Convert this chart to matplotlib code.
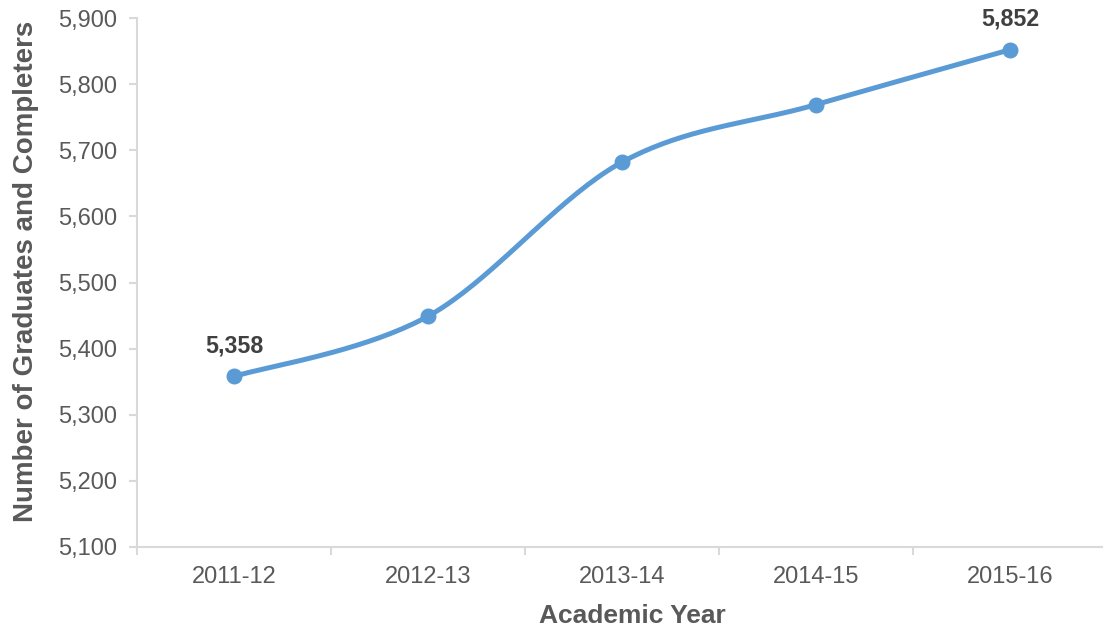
import numpy as np
import matplotlib
matplotlib.use("Agg")
import matplotlib.pyplot as plt
from matplotlib.ticker import FuncFormatter, FixedLocator

years = ["2011-12", "2012-13", "2013-14", "2014-15", "2015-16"]
values = [5358, 5449, 5682, 5769, 5852]
labelled = [0, 4]
y_ticks = [5100, 5200, 5300, 5400, 5500, 5600, 5700, 5800, 5900]

plt.rcParams['font.family'] = ['Liberation Sans', 'DejaVu Sans']

W, H = 1103, 631
fig = plt.figure(figsize=(W/100, H/100), dpi=100)
ax = fig.add_axes([137/W, 1-547/H, (1107-137)/W, (547-18)/H])

x = np.arange(len(values), dtype=float)
y = np.array(values, dtype=float)

# Smoothed line (Catmull-Rom style Bezier segments through the data points)
P = np.column_stack([x, y])
Pext = np.vstack([P[0], P, P[-1]])
curve = []
t = np.linspace(0, 1, 40)[:, None]
for i in range(len(P) - 1):
    p0, p1, p2, p3 = Pext[i], Pext[i+1], Pext[i+2], Pext[i+3]
    c1 = p1 + (p2 - p0) / 6
    c2 = p2 - (p3 - p1) / 6
    seg = ((1-t)**3) * p1 + 3*((1-t)**2)*t*c1 + 3*(1-t)*t**2*c2 + t**3*p2
    curve.append(seg if i == 0 else seg[1:])
curve = np.vstack(curve)

color = '#5B9BD5'
ax.plot(curve[:, 0], curve[:, 1], color=color, lw=3.6, solid_capstyle='round', zorder=3)
ax.plot(x, y, 'o', color=color, ms=10.5, zorder=4)

for i in labelled:
    ax.annotate(f"{values[i]:,}", (x[i], y[i]), xytext=(0, 17.3), textcoords='offset points',
                ha='center', va='baseline', fontsize=16.7, fontweight='bold', color='#404040')

ax.set_xlim(-0.5, len(values) - 0.5)
ax.set_ylim(5100, 5900)
ax.set_yticks(y_ticks)
ax.yaxis.set_major_formatter(FuncFormatter(lambda v, p: f"{int(v):,}"))
ax.set_xticks(x)
ax.set_xticklabels(years)
ax.xaxis.set_minor_locator(FixedLocator(np.arange(-0.5, len(values), 1.0)))

for s in ['top', 'right']:
    ax.spines[s].set_visible(False)
for s in ['left', 'bottom']:
    ax.spines[s].set_color('#d9d9d9')
    ax.spines[s].set_linewidth(1.5)

ax.tick_params(axis='y', which='major', length=6, width=1.5, color='#d9d9d9',
               labelsize=17, labelcolor='#595959', pad=8)
ax.tick_params(axis='x', which='major', length=0, labelsize=17, labelcolor='#595959', pad=14)
ax.tick_params(axis='x', which='minor', length=6, width=1.5, color='#d9d9d9')

ax.set_xlabel("Academic Year", fontsize=19, fontweight='bold', color='#595959')
ax.xaxis.set_label_coords(632/W, 1-623/H, transform=fig.transFigure)
ax.xaxis.label.set_va('baseline')

ax.set_ylabel("Number of Graduates and Completers", fontsize=20, fontweight='bold',
              color='#595959')
ax.yaxis.set_label_coords(33/W, 1-271/H, transform=fig.transFigure)
ax.yaxis.label.set_va('baseline')

fig.savefig("out.png", dpi=100)
